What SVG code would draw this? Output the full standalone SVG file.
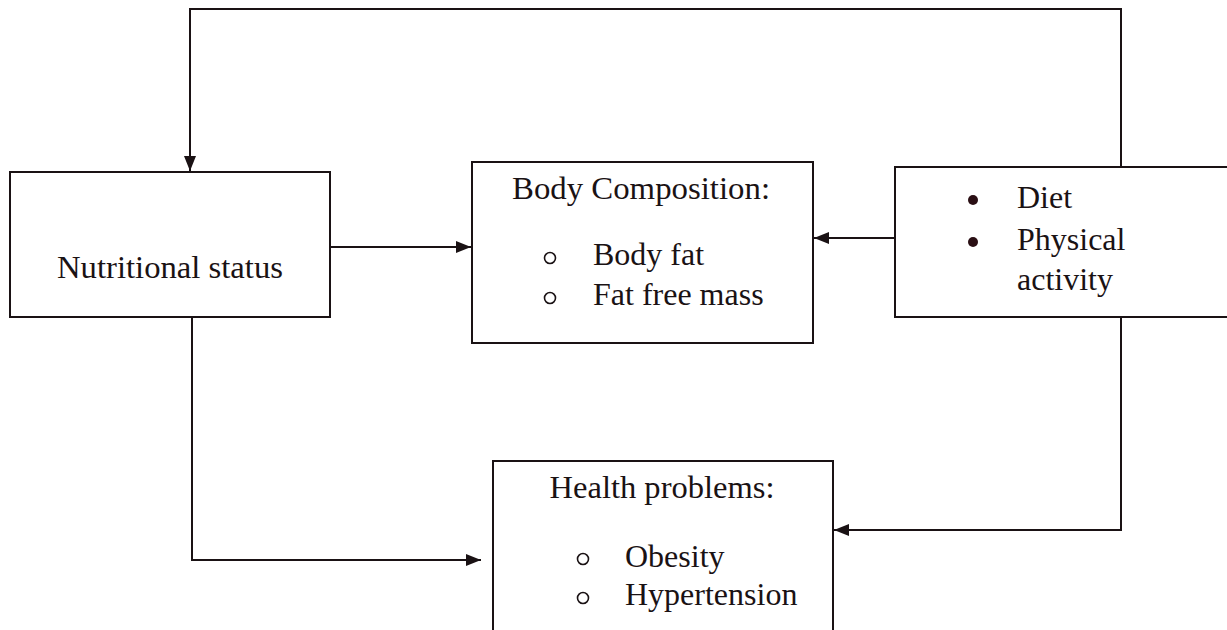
<svg xmlns="http://www.w3.org/2000/svg" width="1227" height="630" viewBox="0 0 1227 630">
<style>
.box{fill:#fff;stroke:#1a1214;stroke-width:2}
.ln{fill:none;stroke:#1a1214;stroke-width:2}
.t{font-family:"Liberation Serif","Times New Roman",serif;font-size:32px;fill:#1a1214}
.ob{fill:none;stroke:#1a1214;stroke-width:1.6}
.fb{fill:#2a0f14}
</style>
<defs>
<marker id="ah" viewBox="0 0 15 12" refX="15" refY="6" markerWidth="15" markerHeight="12" markerUnits="userSpaceOnUse" orient="auto">
<path d="M0,0 L15,6 L0,12 Z" fill="#1a1214"/>
</marker>
</defs>
<g id="connectors">
<path class="ln" d="M1121,167 L1121,9 L190,9 L190,171" marker-end="url(#ah)"/>
<path class="ln" d="M330,247 L471,247" marker-end="url(#ah)"/>
<path class="ln" d="M904,238 L814,238" marker-end="url(#ah)"/>
<path class="ln" d="M192,317 L192,560 L481,560" marker-end="url(#ah)"/>
<path class="ln" d="M1121,317 L1121,530 L834,530" marker-end="url(#ah)"/>
</g>
<g id="nutritional-status">
<rect class="box" x="10" y="172" width="320" height="145"/>
<text class="t" x="170" y="278" text-anchor="middle" textLength="226" lengthAdjust="spacingAndGlyphs">Nutritional status</text>
</g>
<g id="body-composition">
<rect class="box" x="472" y="162" width="341" height="181"/>
<text class="t" x="641" y="199" text-anchor="middle" textLength="258" lengthAdjust="spacingAndGlyphs">Body Composition:</text>
<circle class="ob" cx="550" cy="258" r="5.5"/>
<text class="t" x="593" y="265">Body fat</text>
<circle class="ob" cx="550" cy="298" r="5.5"/>
<text class="t" x="593" y="305">Fat free mass</text>
</g>
<g id="diet-activity">
<rect class="box" x="895" y="167" width="340" height="150"/>
<circle class="fb" cx="973" cy="200" r="5"/>
<text class="t" x="1017" y="208">Diet</text>
<circle class="fb" cx="973" cy="242" r="5"/>
<text class="t" x="1017" y="250">Physical</text>
<text class="t" x="1017" y="290">activity</text>
</g>
<g id="health-problems">
<rect class="box" x="493" y="461" width="340" height="190"/>
<text class="t" x="662" y="498" text-anchor="middle" textLength="225" lengthAdjust="spacingAndGlyphs">Health problems:</text>
<circle class="ob" cx="583" cy="559" r="5.5"/>
<text class="t" x="625" y="567">Obesity</text>
<circle class="ob" cx="583" cy="598" r="5.5"/>
<text class="t" x="625" y="605">Hypertension</text>
</g>
</svg>
